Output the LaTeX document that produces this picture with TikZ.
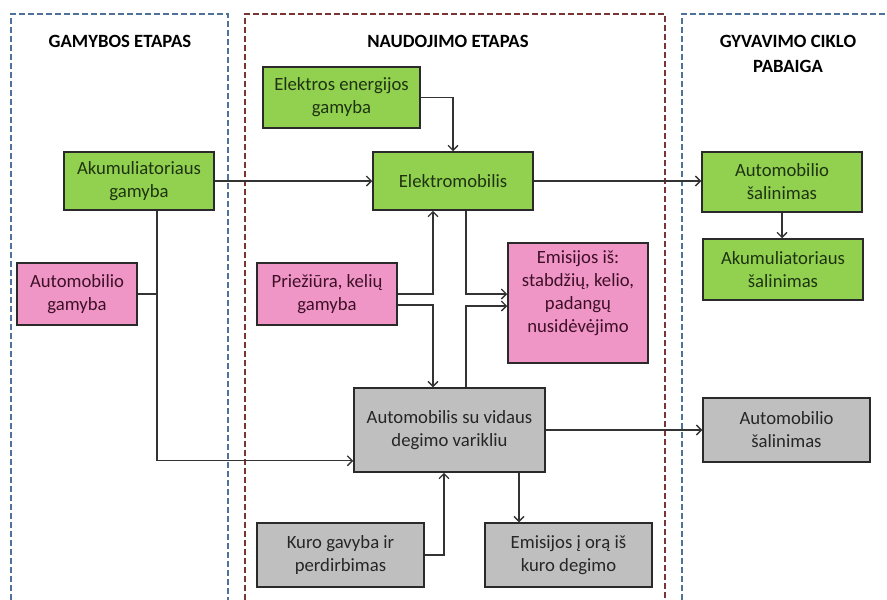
\documentclass[tikz,border=0pt]{standalone}
\usepackage{fontspec}
\setmainfont{Carlito}
\usetikzlibrary{arrows.meta,calc}

\definecolor{greenfill}{HTML}{92D050}
\definecolor{pinkfill}{HTML}{F096C6}
\definecolor{grayfill}{HTML}{BFBFBF}
\definecolor{greentext}{HTML}{1E3410}
\definecolor{pinktext}{HTML}{3E1028}
\definecolor{graytext}{HTML}{262626}
\definecolor{boxline}{HTML}{2A2A2A}
\definecolor{wire}{HTML}{333333}
\definecolor{phaseblue}{HTML}{4E7299}
\definecolor{phasered}{HTML}{7A3434}

\tikzset{
  boxtext/.style={font=\fontsize{18.7}{23}\selectfont},
  box/.style={draw=boxline, line width=1.5pt, inner sep=0pt, align=center, boxtext},
  greenbox/.style={box, fill=greenfill, text=greentext},
  pinkbox/.style={box, fill=pinkfill, text=pinktext},
  graybox/.style={box, fill=grayfill, text=graytext},
  size/.style 2 args={minimum width=#1, minimum height=#2},
  phase/.style={line width=2pt, dash pattern=on 6pt off 3pt},
  title/.style={font=\fontsize{18.7}{25}\selectfont\bfseries, text=black, align=center, inner sep=0pt},
  flow/.style={draw=wire, line width=1.3pt, -{Straight Barb[length=5pt,width=10pt]}},
  wireline/.style={draw=wire, line width=1.3pt}
}

\begin{document}
\begin{tikzpicture}[x=1pt, y=-1pt]
\useasboundingbox (0,0) rectangle (887,600);

% phase frames, open at the bottom
\draw[phase, draw=phaseblue] (11,600) -- (11,14) -- (228,14) -- (228,600);
\draw[phase, draw=phasered] (245,600) -- (245,14) -- (665,14) -- (665,600);
\draw[phase, draw=phaseblue] (682,600) -- (682,14) -- (887,14);

% phase titles
\node[title] (t1) at (120,41) {GAMYBOS ETAPAS};
\node[title] (t2) at (448,41) {NAUDOJIMO ETAPAS};
\node[title] (t3) at (788,54) {GYVAVIMO CIKLO\\PABAIGA};

% production
\node[greenbox, size={150pt}{58pt}] (akg) at (139,181) {Akumuliatoriaus\\gamyba};
\node[pinkbox, size={120pt}{62pt}] (amg) at (77,294) {Automobilio\\gamyba};

% use phase
\node[greenbox, size={157pt}{61pt}] (eeg) at (341.5,97.5) {Elektros energijos\\gamyba};
\node[greenbox, size={160pt}{58pt}] (em) at (453,181) {Elektromobilis};
\node[pinkbox, size={140pt}{62pt}] (pkg) at (327,294) {Priežiūra, kelių\\gamyba};
\node[pinkbox, size={140pt}{120pt}] (emi) at (578,303) {};
\node[boxtext, text=pinktext, align=center, inner sep=0pt] (emitxt) at (578,293.5)
  {Emisijos iš:\\stabdžių, kelio,\\padangų\\nusidėvėjimo};
\node[graybox, size={191pt}{84pt}] (ice) at (449.5,430) {Automobilis su vidaus\\degimo varikliu};
\node[graybox, size={167pt}{64pt}] (kgp) at (340.5,555) {Kuro gavyba ir\\perdirbimas};
\node[graybox, size={167pt}{64pt}] (eok) at (568.5,555) {Emisijos į orą iš\\kuro degimo};

% end of life
\node[greenbox, size={160pt}{60pt}] (asg) at (782,182) {Automobilio\\šalinimas};
\node[greenbox, size={160pt}{61pt}] (aks) at (783,269.5) {Akumuliatoriaus\\šalinimas};
\node[graybox, size={167pt}{64pt}] (asp) at (786.5,430) {Automobilio\\šalinimas};

% junction points of the routed connectors
\coordinate (bus) at ($(akg.south)+(18,250)$);
\coordinate (upx) at ($(em.south)+(-20,0)$);
\coordinate (dnx) at ($(ice.north)+(-16.5,0)$);
\coordinate (emx) at ($(em.south)+(13,0)$);
\coordinate (icx) at ($(ice.north)+(16.5,0)$);
\coordinate (fux) at ($(ice.south)+(-5.5,0)$);
\coordinate (exx) at ($(ice.south)+(69.5,0)$);

% connectors
\draw[flow] (akg.east) -- (akg.east -| em.west);
\draw[flow] (eeg.east) -| (em.north);
\draw[flow] (em.east) -- (em.east -| asg.west);
\draw[flow] (asg.south) -- (asg.south |- aks.north);

\draw[flow] (akg.south -| bus) -- (bus) -- (bus -| ice.west);
\draw[wireline] (amg.east) -- (amg.east -| bus);

\draw[flow] (pkg.east) -| (upx);
\draw[flow] ($(pkg.east)+(0,11)$) -| (dnx);
\draw[flow] (emx) |- ($(emi.west)+(0,-9)$);
\draw[flow] (icx) |- ($(emi.west)+(0,3)$);

\draw[flow] (ice.east) -- (ice.east -| asp.west);
\draw[flow] (kgp.east) -| (fux);
\draw[flow] (exx) -- (exx |- eok.north);
\end{tikzpicture}
\end{document}
